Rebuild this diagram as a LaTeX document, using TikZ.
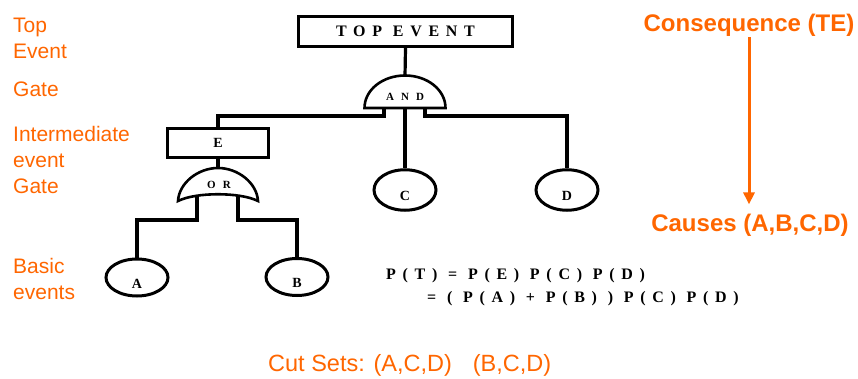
\documentclass[tikz,border=0pt]{standalone}
\usepackage{fontspec}
\setmainfont{Liberation Serif}
\newfontfamily\notefont{Liberation Sans}
\newfontfamily\spacedfont[LetterSpace=42]{Liberation Serif}
\newfontfamily\gatefont[LetterSpace=64]{Liberation Serif}
\usepackage{tikz}
\usetikzlibrary{shapes.geometric}
\usetikzlibrary{arrows.meta}
\definecolor{accent}{HTML}{FF6600}
\tikzstyle{event}=[draw=black,line width=3pt,fill=white,inner sep=0pt,font=\bfseries\fontsize{14}{16}\selectfont]
\tikzstyle{basic}=[draw=black,line width=3pt,fill=white,ellipse,inner sep=0pt,minimum width=62pt,text height=21pt,text depth=0pt,font=\bfseries\fontsize{14}{16}\selectfont]
\tikzstyle{gate}=[draw=black,line width=2.6pt,fill=white]
\tikzstyle{gatelabel}=[inner sep=0pt,font=\gatefont\bfseries\fontsize{11}{13}\selectfont]
\tikzstyle{wire}=[line width=3.2pt]
\tikzstyle{formula}=[inner sep=0pt,anchor=base west,font=\spacedfont\bfseries\fontsize{16}{18}\selectfont]
\tikzstyle{note}=[text=accent,inner sep=0pt,align=left,anchor=north west,font=\notefont\fontsize{21}{26}\selectfont]
\tikzstyle{flow}=[text=accent,inner sep=0pt,anchor=base,font=\notefont\bfseries\fontsize{24}{28}\selectfont]

\begin{document}
\begin{tikzpicture}[x=1pt,y=-1pt]
      \useasboundingbox (0,0) rectangle (858,379);

      \node[note] (ltop) at (13,18) {Top\\Event};
      \node[note] (lgate) at (13,82) {Gate};
      \node[note] (lmid) at (13,126) {Intermediate\\event\\Gate};
      \node[note] (lbasic) at (13,258) {Basic\\events};

      \node[event,minimum width=214pt,minimum height=30pt,font=\spacedfont\bfseries\fontsize{16}{18}\selectfont] (top) at (405.5,31.5) {TOP EVENT};
      \node[event,minimum width=101pt,minimum height=29pt] (E) at (218,143) {E};

      \node[basic,minimum height=37pt] (A) at (137,277.5) {A};
      \node[basic,minimum height=37pt] (B) at (297,277) {B};
      \node[basic,minimum height=40.5pt] (C) at (405,190) {C};
      \node[basic,minimum height=40.5pt] (D) at (567,190) {D};

      \coordinate (andin) at (405,76);
      \coordinate (andl) at (384,108);
      \coordinate (ando) at (405,108);
      \coordinate (andr) at (425,108);
      \coordinate (orin) at (218,169);
      \coordinate (orl) at (197,196);
      \coordinate (orr) at (238,196);

      \draw[wire] (top.south) to (andin);
      \draw[wire] (andl) -- ++(0,8) -| (E.north);
      \draw[wire] (ando) to (C.north);
      \draw[wire] (andr) -- ++(0,8) -| (D.north);
      \draw[wire] (E.south) to (orin);
      \draw[wire] (orl) -- ++(0,24) -| (A.north);
      \draw[wire] (orr) -- ++(0,24) -| (B.north);

      \draw[gate] (364.5,108) .. controls (364.5,90) and (382.5,75.5) .. (405,75.5)
        .. controls (427.5,75.5) and (445.5,90) .. (445.5,108) -- cycle;
      \node[gatelabel] (andlbl) at (405,97) {AND};

      \draw[gate] (178,201) .. controls (179,183) and (198,168) .. (218,168)
        .. controls (238,168) and (257,183) .. (258,201)
        .. controls (240,192) and (196,192) .. cycle;
      \node[gatelabel] (orlbl) at (219,185) {OR};

      \node[formula] (pt) at (386,279) {P(T) = P(E) P(C) P(D)};
      \node[formula] (pts) at (427,302) {= ( P(A) + P(B) ) P(C) P(D)};

      \node[flow] (cons) at (749,32) {Consequence (TE)};
      \node[flow] (cause) at (750,232) {Causes (A,B,C,D)};
      \draw[accent,line width=3pt,-{Triangle[width=11pt,length=12pt]},shorten >=10pt] (cons.south) -- (cons.south |- cause.north);

      \node[note,anchor=base west,font=\notefont\fontsize{23.5}{28}\selectfont] (cuts) at (268,371) {Cut Sets: (A,C,D)\hspace{21pt}(B,C,D)};
    \end{tikzpicture}
\end{document}
